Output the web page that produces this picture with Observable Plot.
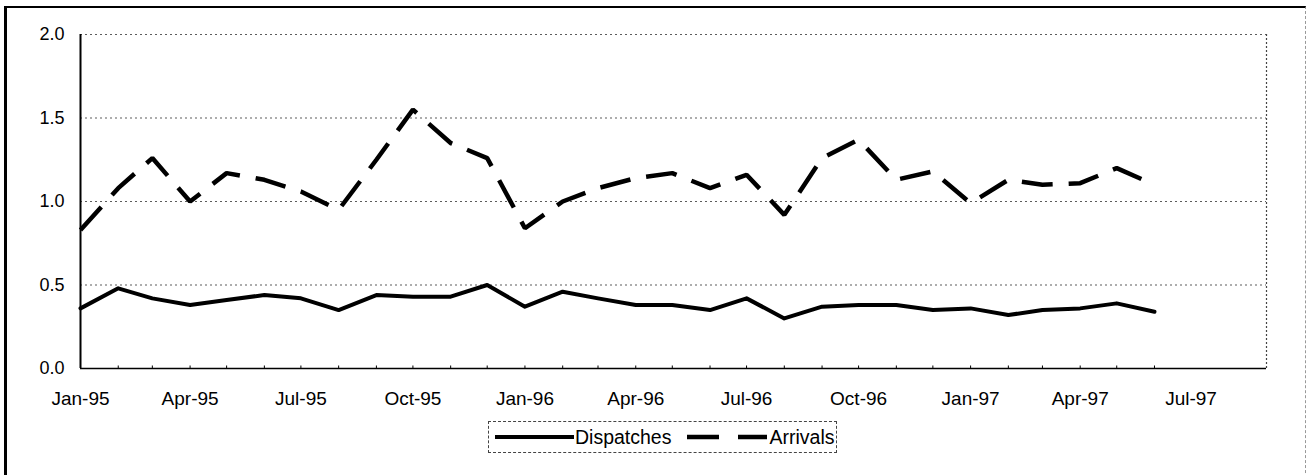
<!DOCTYPE html>
<html>
<head>
<meta charset="utf-8">
<script src="https://cdn.jsdelivr.net/npm/d3@7"></script>
<script src="https://cdn.jsdelivr.net/npm/@observablehq/plot@0.6"></script>
<style>
  html, body { margin: 0; padding: 0; background: #fff; width: 1307px; height: 475px; overflow: hidden; }
  body { position: relative; font-family: "Liberation Sans", Arial, sans-serif; }
  #frame { position: absolute; left: 4px; top: 6px; width: 1298px; height: 490px;
           border-top: 2px solid #000; border-left: 3px solid #000; border-right: 1px dashed #999; }
  #chart { position: absolute; left: 0; top: 0; }
  #legend { position: absolute; left: 488px; top: 421px; width: 347px; height: 30px;
            border: 1px dashed #444; display: flex; align-items: center; font-size: 19.5px; color: #000; }
  #legend svg { display: block; }
</style>
</head>
<body>
<div id="frame"></div>
<div id="chart"></div>
<div id="legend"></div>
<script>
// Data
const months = ["Jan-95","Feb-95","Mar-95","Apr-95","May-95","Jun-95","Jul-95","Aug-95","Sep-95","Oct-95","Nov-95","Dec-95",
                "Jan-96","Feb-96","Mar-96","Apr-96","May-96","Jun-96","Jul-96","Aug-96","Sep-96","Oct-96","Nov-96","Dec-96",
                "Jan-97","Feb-97","Mar-97","Apr-97","May-97","Jun-97"];
const dispatches = [0.36,0.48,0.42,0.38,0.41,0.44,0.42,0.35,0.44,0.43,0.43,0.50,
                    0.37,0.46,0.42,0.38,0.38,0.35,0.42,0.30,0.37,0.38,0.38,0.35,
                    0.36,0.32,0.35,0.36,0.39,0.34];
const arrivals = [0.83,1.08,1.26,1.00,1.17,1.13,1.06,0.95,1.25,1.55,1.35,1.26,
                  0.84,1.00,1.08,1.14,1.17,1.08,1.16,0.92,1.26,1.37,1.13,1.18,
                  0.99,1.13,1.10,1.11,1.20,1.10];
const tickLabels = ["Jan-95","Apr-95","Jul-95","Oct-95","Jan-96","Apr-96","Jul-96","Oct-96","Jan-97","Apr-97","Jul-97"];
const yTicks = [0, 0.5, 1.0, 1.5, 2.0];
const gridValues = [0.5, 1.0, 1.5, 2.0];
const xStart = "Jan-95", xEnd = "Sep-97";
const seriesNames = ["Dispatches", "Arrivals"];

const parse = d3.utcParse("%b-%y");
const fmt = d3.utcFormat("%b-%y");
const dispData = months.map((m, i) => ({date: parse(m), value: dispatches[i]}));
const arrData = months.map((m, i) => ({date: parse(m), value: arrivals[i]}));
const x0 = parse(xStart), x1 = parse(xEnd);

const FONT = "Liberation Sans, Arial, sans-serif";

const chart = Plot.plot({
  width: 1307,
  height: 410,
  marginLeft: 80,
  marginRight: 41,
  marginTop: 34,
  marginBottom: 42,
  style: {fontFamily: FONT, fontSize: "18px", color: "#000", background: "transparent", overflow: "visible"},
  x: {type: "utc", domain: [x0, x1]},
  y: {domain: [0, 2]},
  marks: [
    Plot.ruleY(gridValues, {stroke: "#333", strokeWidth: 1, strokeDasharray: "2,3", strokeOpacity: 0.8}),
    Plot.ruleX([x1], {stroke: "#444", strokeWidth: 1.2, strokeDasharray: "2,2"}),
    Plot.ruleX(months.map(parse), {x: d => d, y1: 0, y2: 0.015, stroke: "#000", strokeWidth: 1}),
    Plot.ruleY([0], {stroke: "#000", strokeWidth: 1.6}),
    Plot.ruleX([x0], {stroke: "#000", strokeWidth: 2}),
    Plot.axisY({ticks: yTicks, tickFormat: d3.format(".1f"), tickSize: 0, tickPadding: 16, label: null, fontSize: 18}),
    Plot.axisX({ticks: tickLabels.map(parse), tickFormat: fmt, tickSize: 0, tickPadding: 23, label: null, fontSize: 19}),
    Plot.line(arrData, {x: "date", y: "value", stroke: "#000", strokeWidth: 4.5, strokeDasharray: "31,16", strokeLinecap: "butt", strokeLinejoin: "miter"}),
    Plot.line(dispData, {x: "date", y: "value", stroke: "#000", strokeWidth: 4, strokeLinejoin: "round"})
  ]
});
document.getElementById("chart").appendChild(chart);

// Legend
const legend = document.getElementById("legend");
legend.innerHTML =
  `<svg width="86" height="30"><line x1="6" x2="85" y1="15" y2="15" stroke="#000" stroke-width="4"/></svg>` +
  `<span>${seriesNames[0]}</span>` +
  `<svg width="92" height="30" style="margin-left:6px"><line x1="10" x2="90" y1="15" y2="15" stroke="#000" stroke-width="4.5" stroke-dasharray="32,19"/></svg>` +
  `<span>${seriesNames[1]}</span>`;
</script>
</body>
</html>
